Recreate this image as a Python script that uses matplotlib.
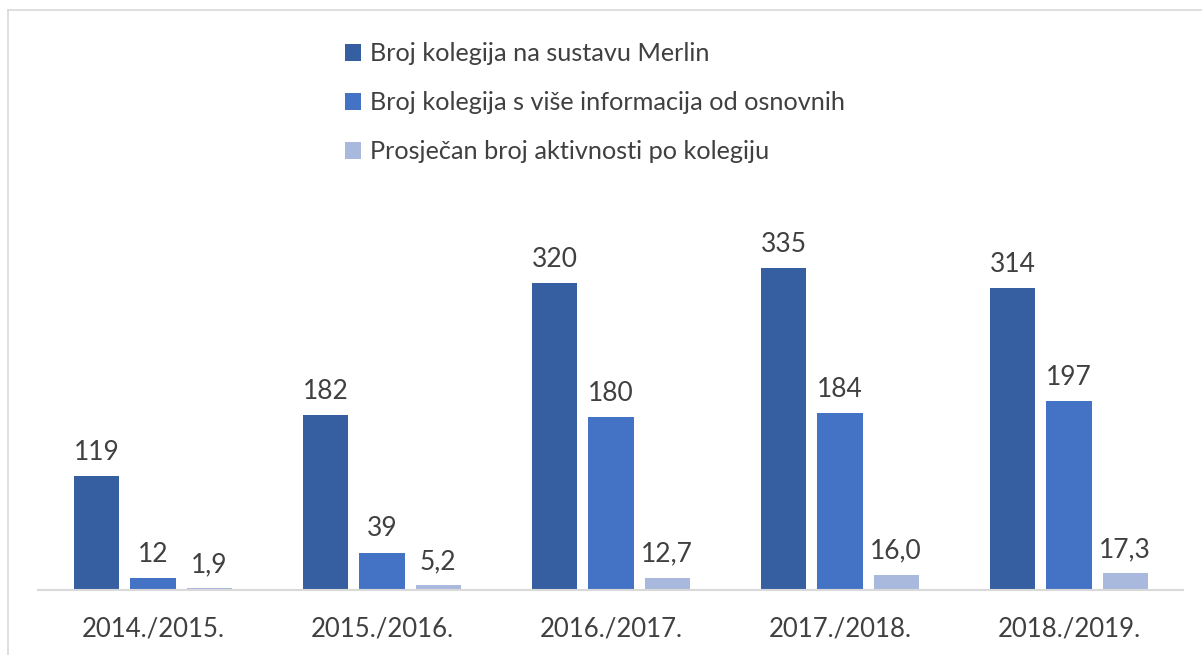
import matplotlib
matplotlib.use("Agg")
import numpy as np
from matplotlib import pyplot as plt
from matplotlib.lines import Line2D
from matplotlib.patches import Patch

years = ['2014./2015.', '2015./2016.', '2016./2017.', '2017./2018.', '2018./2019.']
series_names = ['Broj kolegija na sustavu Merlin',
                'Broj kolegija s više informacija od osnovnih',
                'Prosječan broj aktivnosti po kolegiju']
merlin = [119, 182, 320, 335, 314]
vise_info = [12, 39, 180, 184, 197]
prosjek = [1.9, 5.2, 12.7, 16.0, 17.3]

colors = ['#365FA1', '#4472C4', '#A9B8DD']
text_col = '#404040'

plt.rcParams['font.family'] = ['Lato', 'DejaVu Sans']

fig = plt.figure(figsize=(12.02, 6.55), dpi=100)
ax = fig.add_axes([0.032, 0.0992, 0.9526, 0.8212])

x = np.arange(len(years))
w = 0.197
step = 0.245
for k, vals in enumerate([merlin, vise_info, prosjek]):
    pos = x + (k - 1) * step
    bars = ax.bar(pos, vals, width=w, color=colors[k], zorder=2)
    for b, v in zip(bars, vals):
        lab = str(v) if isinstance(v, int) else ('%.1f' % v).replace('.', ',')
        ax.annotate(lab, (b.get_x() + b.get_width() / 2, v), xytext=(0, 8),
                    textcoords='offset points', ha='center', va='bottom',
                    fontsize=19, color=text_col)

ax.set_xlim(-0.5, 4.5)
ax.set_ylim(0, 560)
ax.set_xticks(x)
ax.set_xticklabels(years, fontsize=18.5, color=text_col)
ax.tick_params(axis='x', length=0, pad=19)
ax.set_yticks([])
for s in ['top', 'right', 'left']:
    ax.spines[s].set_visible(False)
ax.spines['bottom'].set_color('#D9D9D9')
ax.spines['bottom'].set_linewidth(1.5)

handles = [Patch(facecolor=c) for c in colors]
leg = fig.legend(handles, series_names, loc='upper left',
                 bbox_to_anchor=(0.268, 0.97), frameon=False, fontsize=18.2,
                 labelcolor=text_col, handlelength=0.65, handleheight=0.65,
                 handletextpad=0.35, labelspacing=1.02)

# chart area border (cropped)
fig.add_artist(Line2D([8 / 1202, 1], [1 - 10 / 655, 1 - 10 / 655],
                      transform=fig.transFigure, color='#D9D9D9', lw=1.2))
fig.add_artist(Line2D([8 / 1202, 8 / 1202], [0, 1 - 10 / 655],
                      transform=fig.transFigure, color='#D9D9D9', lw=1.2))

fig.savefig('out.png', dpi=100)
